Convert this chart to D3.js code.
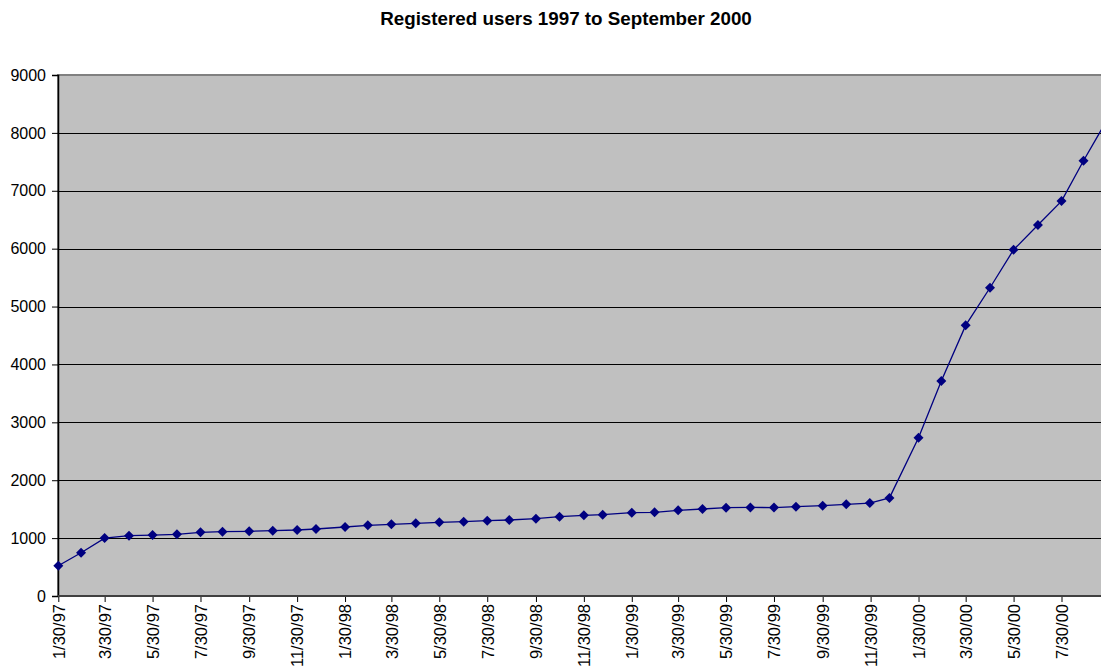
<!DOCTYPE html>
<html><head><meta charset="utf-8">
<script src="https://cdn.jsdelivr.net/npm/d3@7"></script>
<style>body{margin:0;background:#fff}svg{display:block}</style>
</head><body>
<svg id="c" width="1101" height="666"></svg>
<script>
const title = "Registered users 1997 to September 2000";
const dates = [
 "1997-01-30","1997-02-28","1997-03-30","1997-04-30","1997-05-30","1997-06-30","1997-07-30","1997-08-27","1997-09-30","1997-10-30","1997-11-30","1997-12-24",
 "1998-01-30","1998-02-28","1998-03-30","1998-04-30","1998-05-30","1998-06-30","1998-07-30","1998-08-27","1998-09-30","1998-10-30","1998-11-30","1998-12-24",
 "1999-01-30","1999-02-28","1999-03-30","1999-04-30","1999-05-30","1999-06-30","1999-07-30","1999-08-27","1999-09-30","1999-10-30","1999-11-29","1999-12-24",
 "2000-01-30","2000-02-28","2000-03-30","2000-04-30","2000-05-30","2000-06-30","2000-07-30","2000-08-27","2000-09-30"
];
const users = [
 523,748,1000,1042,1053,1065,1100,1111,1117,1128,1140,1157,
 1192,1221,1238,1255,1272,1284,1301,1313,1336,1370,1393,1405,
 1439,1445,1480,1503,1525,1530,1528,1543,1560,1583,1606,1695,
 2734,3713,4675,5325,5981,6408,6822,7518,8320
];
const tickDates = ["1997-01-30","1997-03-30","1997-05-30","1997-07-30","1997-09-30","1997-11-30",
 "1998-01-30","1998-03-30","1998-05-30","1998-07-30","1998-09-30","1998-11-30",
 "1999-01-30","1999-03-30","1999-05-30","1999-07-30","1999-09-30","1999-11-30",
 "2000-01-30","2000-03-30","2000-05-30","2000-07-30"];
const yTicks = [0,1000,2000,3000,4000,5000,6000,7000,8000,9000];

const parse = d3.utcParse("%Y-%m-%d");
const data = dates.map((d,i)=>({date:parse(d), v:users[i]}));
const ticks = tickDates.map(parse);
const fmt = d => (d.getUTCMonth()+1)+"/"+d.getUTCDate()+"/"+String(d.getUTCFullYear()).slice(2);

const svg = d3.select("#c");
const W = 1101;
const mLeft = 58, mTop = 75, mBottom = 596;
const x = d3.scaleUtc().domain([parse("1997-01-30"), parse("2000-07-30")]).range([58.3, 1061.5]);
const y = d3.scaleLinear().domain([0,9000]).range([mBottom, mTop]);
const font = "Liberation Sans, Arial, sans-serif";

svg.append("text").attr("x",566).attr("y",25).attr("text-anchor","middle")
  .attr("font-family",font).attr("font-weight","bold").attr("font-size",18.8).text(title);

// plot area
svg.append("rect").attr("x",mLeft).attr("y",mTop).attr("width",W-mLeft+10).attr("height",mBottom-mTop)
  .attr("fill","#c0c0c0").attr("stroke","#808080").attr("stroke-width",2);

// gridlines
svg.append("g").selectAll("line").data(yTicks.filter(t=>t>0 && t<9000)).join("line")
  .attr("x1",mLeft).attr("x2",W).attr("y1",d=>Math.round(y(d))+0.5).attr("y2",d=>Math.round(y(d))+0.5)
  .attr("stroke","#000").attr("stroke-width",1);

// y axis
const ya = svg.append("g").attr("transform",`translate(${mLeft},0)`)
  .call(d3.axisLeft(y).tickValues(yTicks).tickSize(6).tickPadding(6).tickFormat(d3.format("d")));
ya.select(".domain").attr("stroke","#000").attr("stroke-width",1.5);
ya.selectAll("line").attr("stroke","#000");
ya.selectAll("text").attr("font-family",font).attr("font-size",16).attr("fill","#000");

// x axis
const xa = svg.append("g").attr("transform",`translate(0,${mBottom})`)
  .call(d3.axisBottom(x).tickValues(ticks).tickSize(6).tickFormat(fmt));
xa.select(".domain").remove();
svg.append("line").attr("x1",mLeft).attr("x2",W).attr("y1",mBottom).attr("y2",mBottom).attr("stroke","#404040").attr("stroke-width",2);
xa.selectAll("line").attr("stroke","#000");
xa.selectAll("text").attr("font-family",font).attr("font-size",16.5).attr("fill","#000")
  .attr("transform","rotate(-90)").attr("text-anchor","end").attr("x",-8).attr("y",0).attr("dy","0.35em");

// line
svg.append("path").datum(data)
  .attr("d", d3.line().x(d=>x(d.date)).y(d=>y(d.v)))
  .attr("fill","none").attr("stroke","#000080").attr("stroke-width",1.3);

// markers
svg.append("g").selectAll("path").data(data).join("path")
  .attr("transform",d=>`translate(${x(d.date)},${y(d.v)})`)
  .attr("d","M0,-5L5,0L0,5L-5,0Z").attr("fill","#000080");
</script>
</body></html>
